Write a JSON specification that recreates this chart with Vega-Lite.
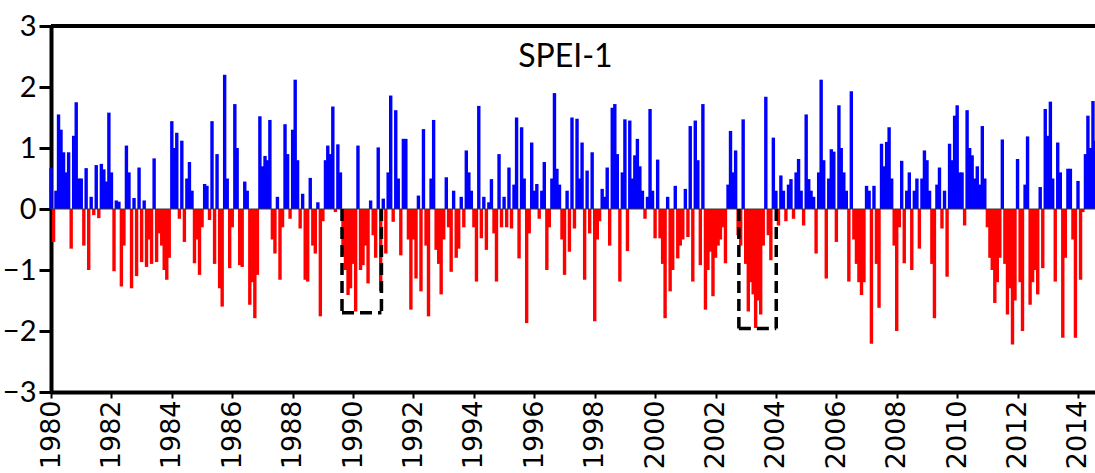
{
  "$schema": "https://vega.github.io/schema/vega-lite/v6.json",
  "width": 1095,
  "height": 473,
  "autosize": {"type": "fit", "contains": "padding"},
  "padding": {"left": 2, "top": 12, "right": -6, "bottom": 0},
  "background": "white",
  "datasets": {
    "spei": [
      {"d":"1980-01","v":0.67},{"d":"1980-02","v":-0.54},{"d":"1980-03","v":0.3},{"d":"1980-04","v":1.55},{"d":"1980-05","v":1.3},{"d":"1980-06","v":0.93},{"d":"1980-07","v":0.6},{"d":"1980-08","v":0.93},{"d":"1980-09","v":-0.65},{"d":"1980-10","v":1.2},{"d":"1980-11","v":1.75},{"d":"1980-12","v":0.5},
      {"d":"1981-01","v":0.5},{"d":"1981-02","v":-0.6},{"d":"1981-03","v":0.67},{"d":"1981-04","v":-1.0},{"d":"1981-05","v":0.2},{"d":"1981-06","v":-0.1},{"d":"1981-07","v":0.72},{"d":"1981-08","v":-0.15},{"d":"1981-09","v":0.74},{"d":"1981-10","v":0.65},{"d":"1981-11","v":0.45},{"d":"1981-12","v":1.58},
      {"d":"1982-01","v":0.6},{"d":"1982-02","v":-1.02},{"d":"1982-03","v":0.14},{"d":"1982-04","v":0.12},{"d":"1982-05","v":-1.27},{"d":"1982-06","v":-0.6},{"d":"1982-07","v":1.04},{"d":"1982-08","v":0.6},{"d":"1982-09","v":-1.3},{"d":"1982-10","v":0.18},{"d":"1982-11","v":-1.1},{"d":"1982-12","v":0.68},
      {"d":"1983-01","v":-0.87},{"d":"1983-02","v":0.14},{"d":"1983-03","v":-0.95},{"d":"1983-04","v":-0.5},{"d":"1983-05","v":-0.9},{"d":"1983-06","v":0.83},{"d":"1983-07","v":-0.87},{"d":"1983-08","v":-0.4},{"d":"1983-09","v":-0.6},{"d":"1983-10","v":-1.0},{"d":"1983-11","v":-1.16},{"d":"1983-12","v":-0.8},
      {"d":"1984-01","v":1.44},{"d":"1984-02","v":1.0},{"d":"1984-03","v":1.25},{"d":"1984-04","v":-0.16},{"d":"1984-05","v":1.12},{"d":"1984-06","v":-0.54},{"d":"1984-07","v":0.5},{"d":"1984-08","v":0.77},{"d":"1984-09","v":0.3},{"d":"1984-10","v":-0.89},{"d":"1984-11","v":-0.5},{"d":"1984-12","v":-1.08},
      {"d":"1985-01","v":-0.3},{"d":"1985-02","v":0.41},{"d":"1985-03","v":0.38},{"d":"1985-04","v":-0.18},{"d":"1985-05","v":1.44},{"d":"1985-06","v":-0.9},{"d":"1985-07","v":0.9},{"d":"1985-08","v":-1.3},{"d":"1985-09","v":-1.6},{"d":"1985-10","v":2.2},{"d":"1985-11","v":0.5},{"d":"1985-12","v":-0.97},
      {"d":"1986-01","v":-0.3},{"d":"1986-02","v":1.72},{"d":"1986-03","v":1.0},{"d":"1986-04","v":-0.92},{"d":"1986-05","v":-0.95},{"d":"1986-06","v":0.45},{"d":"1986-07","v":0.3},{"d":"1986-08","v":-1.57},{"d":"1986-09","v":-1.2},{"d":"1986-10","v":-1.79},{"d":"1986-11","v":-1.08},{"d":"1986-12","v":1.52},
      {"d":"1987-01","v":0.7},{"d":"1987-02","v":0.87},{"d":"1987-03","v":0.8},{"d":"1987-04","v":1.46},{"d":"1987-05","v":-0.5},{"d":"1987-06","v":-0.73},{"d":"1987-07","v":0.2},{"d":"1987-08","v":-1.16},{"d":"1987-09","v":-0.3},{"d":"1987-10","v":1.39},{"d":"1987-11","v":0.9},{"d":"1987-12","v":-0.16},
      {"d":"1988-01","v":1.3},{"d":"1988-02","v":2.12},{"d":"1988-03","v":0.8},{"d":"1988-04","v":-0.32},{"d":"1988-05","v":0.25},{"d":"1988-06","v":-1.16},{"d":"1988-07","v":-1.19},{"d":"1988-08","v":0.51},{"d":"1988-09","v":-0.6},{"d":"1988-10","v":-0.73},{"d":"1988-11","v":0.11},{"d":"1988-12","v":-1.76},
      {"d":"1989-01","v":-0.2},{"d":"1989-02","v":0.8},{"d":"1989-03","v":1.04},{"d":"1989-04","v":0.9},{"d":"1989-05","v":1.68},{"d":"1989-06","v":-0.05},{"d":"1989-07","v":1.06},{"d":"1989-08","v":0.6},{"d":"1989-09","v":-0.76},{"d":"1989-10","v":-1.0},{"d":"1989-11","v":-1.41},{"d":"1989-12","v":-1.3},
      {"d":"1990-01","v":-0.9},{"d":"1990-02","v":-1.68},{"d":"1990-03","v":1.04},{"d":"1990-04","v":-1.0},{"d":"1990-05","v":-0.92},{"d":"1990-06","v":-0.6},{"d":"1990-07","v":-1.22},{"d":"1990-08","v":0.14},{"d":"1990-09","v":-0.43},{"d":"1990-10","v":-0.8},{"d":"1990-11","v":1.01},{"d":"1990-12","v":-1.35},
      {"d":"1991-01","v":0.17},{"d":"1991-02","v":-0.73},{"d":"1991-03","v":0.6},{"d":"1991-04","v":1.86},{"d":"1991-05","v":-0.21},{"d":"1991-06","v":1.62},{"d":"1991-07","v":0.5},{"d":"1991-08","v":-0.76},{"d":"1991-09","v":1.15},{"d":"1991-10","v":1.15},{"d":"1991-11","v":-0.5},{"d":"1991-12","v":-1.65},
      {"d":"1992-01","v":-0.5},{"d":"1992-02","v":-1.14},{"d":"1992-03","v":0.22},{"d":"1992-04","v":-1.35},{"d":"1992-05","v":1.31},{"d":"1992-06","v":-0.6},{"d":"1992-07","v":-1.76},{"d":"1992-08","v":0.5},{"d":"1992-09","v":1.46},{"d":"1992-10","v":-0.67},{"d":"1992-11","v":-0.9},{"d":"1992-12","v":-1.4},
      {"d":"1993-01","v":-0.5},{"d":"1993-02","v":0.52},{"d":"1993-03","v":-0.3},{"d":"1993-04","v":-1.03},{"d":"1993-05","v":0.3},{"d":"1993-06","v":-0.8},{"d":"1993-07","v":-0.65},{"d":"1993-08","v":0.2},{"d":"1993-09","v":-0.3},{"d":"1993-10","v":0.96},{"d":"1993-11","v":0.6},{"d":"1993-12","v":0.3},
      {"d":"1994-01","v":-0.3},{"d":"1994-02","v":-1.19},{"d":"1994-03","v":1.69},{"d":"1994-04","v":-0.48},{"d":"1994-05","v":0.2},{"d":"1994-06","v":-0.67},{"d":"1994-07","v":0.11},{"d":"1994-08","v":0.49},{"d":"1994-09","v":-0.4},{"d":"1994-10","v":-1.19},{"d":"1994-11","v":0.9},{"d":"1994-12","v":-0.3},
      {"d":"1995-01","v":0.2},{"d":"1995-02","v":-0.3},{"d":"1995-03","v":0.68},{"d":"1995-04","v":-0.32},{"d":"1995-05","v":0.4},{"d":"1995-06","v":1.5},{"d":"1995-07","v":-0.81},{"d":"1995-08","v":1.34},{"d":"1995-09","v":0.5},{"d":"1995-10","v":-1.87},{"d":"1995-11","v":-0.4},{"d":"1995-12","v":1.09},
      {"d":"1996-01","v":0.3},{"d":"1996-02","v":0.41},{"d":"1996-03","v":-0.16},{"d":"1996-04","v":0.3},{"d":"1996-05","v":0.77},{"d":"1996-06","v":-1.0},{"d":"1996-07","v":-0.3},{"d":"1996-08","v":0.5},{"d":"1996-09","v":1.9},{"d":"1996-10","v":0.66},{"d":"1996-11","v":0.4},{"d":"1996-12","v":-0.5},
      {"d":"1997-01","v":-1.08},{"d":"1997-02","v":0.3},{"d":"1997-03","v":-0.7},{"d":"1997-04","v":1.5},{"d":"1997-05","v":-0.32},{"d":"1997-06","v":1.48},{"d":"1997-07","v":0.5},{"d":"1997-08","v":1.09},{"d":"1997-09","v":-1.16},{"d":"1997-10","v":0.63},{"d":"1997-11","v":-0.4},{"d":"1997-12","v":0.93},
      {"d":"1998-01","v":-1.84},{"d":"1998-02","v":-0.5},{"d":"1998-03","v":-0.2},{"d":"1998-04","v":0.33},{"d":"1998-05","v":0.2},{"d":"1998-06","v":0.68},{"d":"1998-07","v":-0.6},{"d":"1998-08","v":1.66},{"d":"1998-09","v":1.72},{"d":"1998-10","v":0.9},{"d":"1998-11","v":-1.19},{"d":"1998-12","v":0.6},
      {"d":"1999-01","v":1.47},{"d":"1999-02","v":-0.69},{"d":"1999-03","v":1.45},{"d":"1999-04","v":0.5},{"d":"1999-05","v":0.88},{"d":"1999-06","v":1.15},{"d":"1999-07","v":0.7},{"d":"1999-08","v":0.3},{"d":"1999-09","v":-0.16},{"d":"1999-10","v":0.2},{"d":"1999-11","v":1.64},{"d":"1999-12","v":0.3},
      {"d":"2000-01","v":-0.48},{"d":"2000-02","v":0.81},{"d":"2000-03","v":-0.48},{"d":"2000-04","v":-0.9},{"d":"2000-05","v":-1.79},{"d":"2000-06","v":0.2},{"d":"2000-07","v":-1.35},{"d":"2000-08","v":-1.0},{"d":"2000-09","v":0.38},{"d":"2000-10","v":-0.81},{"d":"2000-11","v":-0.6},{"d":"2000-12","v":-0.5},
      {"d":"2001-01","v":0.33},{"d":"2001-02","v":-0.46},{"d":"2001-03","v":1.36},{"d":"2001-04","v":-1.19},{"d":"2001-05","v":1.45},{"d":"2001-06","v":0.8},{"d":"2001-07","v":-0.92},{"d":"2001-08","v":1.72},{"d":"2001-09","v":-1.65},{"d":"2001-10","v":-1.0},{"d":"2001-11","v":-0.7},{"d":"2001-12","v":-1.43},
      {"d":"2002-01","v":-0.8},{"d":"2002-02","v":-0.6},{"d":"2002-03","v":-0.5},{"d":"2002-04","v":-0.3},{"d":"2002-05","v":-0.89},{"d":"2002-06","v":0.4},{"d":"2002-07","v":1.28},{"d":"2002-08","v":0.6},{"d":"2002-09","v":0.96},{"d":"2002-10","v":-0.43},{"d":"2002-11","v":-0.6},{"d":"2002-12","v":1.47},
      {"d":"2003-01","v":-0.9},{"d":"2003-02","v":-1.68},{"d":"2003-03","v":-1.2},{"d":"2003-04","v":-1.4},{"d":"2003-05","v":-1.95},{"d":"2003-06","v":-1.5},{"d":"2003-07","v":-1.73},{"d":"2003-08","v":-0.6},{"d":"2003-09","v":1.84},{"d":"2003-10","v":-0.43},{"d":"2003-11","v":-0.84},{"d":"2003-12","v":1.17},
      {"d":"2004-01","v":0.3},{"d":"2004-02","v":-0.27},{"d":"2004-03","v":0.55},{"d":"2004-04","v":0.3},{"d":"2004-05","v":-0.2},{"d":"2004-06","v":0.4},{"d":"2004-07","v":0.49},{"d":"2004-08","v":-0.16},{"d":"2004-09","v":0.6},{"d":"2004-10","v":0.82},{"d":"2004-11","v":0.3},{"d":"2004-12","v":-0.27},
      {"d":"2005-01","v":1.55},{"d":"2005-02","v":0.49},{"d":"2005-03","v":0.3},{"d":"2005-04","v":0.2},{"d":"2005-05","v":-0.73},{"d":"2005-06","v":0.6},{"d":"2005-07","v":2.12},{"d":"2005-08","v":0.8},{"d":"2005-09","v":-1.14},{"d":"2005-10","v":0.5},{"d":"2005-11","v":0.98},{"d":"2005-12","v":0.94},
      {"d":"2006-01","v":-0.54},{"d":"2006-02","v":1.7},{"d":"2006-03","v":1.0},{"d":"2006-04","v":0.6},{"d":"2006-05","v":0.3},{"d":"2006-06","v":-1.19},{"d":"2006-07","v":1.93},{"d":"2006-08","v":-0.5},{"d":"2006-09","v":-0.9},{"d":"2006-10","v":-1.2},{"d":"2006-11","v":-1.41},{"d":"2006-12","v":-1.2},
      {"d":"2007-01","v":0.38},{"d":"2007-02","v":0.3},{"d":"2007-03","v":-2.21},{"d":"2007-04","v":0.38},{"d":"2007-05","v":-0.9},{"d":"2007-06","v":-1.62},{"d":"2007-07","v":1.07},{"d":"2007-08","v":0.7},{"d":"2007-09","v":1.1},{"d":"2007-10","v":1.34},{"d":"2007-11","v":0.5},{"d":"2007-12","v":-0.6},
      {"d":"2008-01","v":-2.0},{"d":"2008-02","v":-0.3},{"d":"2008-03","v":0.79},{"d":"2008-04","v":-0.89},{"d":"2008-05","v":0.3},{"d":"2008-06","v":0.6},{"d":"2008-07","v":-1.0},{"d":"2008-08","v":0.3},{"d":"2008-09","v":0.5},{"d":"2008-10","v":-0.65},{"d":"2008-11","v":0.5},{"d":"2008-12","v":0.96},
      {"d":"2009-01","v":0.8},{"d":"2009-02","v":0.3},{"d":"2009-03","v":-0.9},{"d":"2009-04","v":-1.79},{"d":"2009-05","v":0.4},{"d":"2009-06","v":0.68},{"d":"2009-07","v":-0.32},{"d":"2009-08","v":0.3},{"d":"2009-09","v":-1.11},{"d":"2009-10","v":1.07},{"d":"2009-11","v":0.8},{"d":"2009-12","v":1.53},
      {"d":"2010-01","v":1.7},{"d":"2010-02","v":0.6},{"d":"2010-03","v":0.6},{"d":"2010-04","v":-0.27},{"d":"2010-05","v":1.62},{"d":"2010-06","v":1.0},{"d":"2010-07","v":0.88},{"d":"2010-08","v":0.5},{"d":"2010-09","v":0.7},{"d":"2010-10","v":0.4},{"d":"2010-11","v":1.36},{"d":"2010-12","v":0.5},
      {"d":"2011-01","v":-0.3},{"d":"2011-02","v":-0.8},{"d":"2011-03","v":-1.0},{"d":"2011-04","v":-1.54},{"d":"2011-05","v":-1.2},{"d":"2011-06","v":-0.8},{"d":"2011-07","v":1.14},{"d":"2011-08","v":-0.9},{"d":"2011-09","v":-1.73},{"d":"2011-10","v":-1.3},{"d":"2011-11","v":-2.22},{"d":"2011-12","v":-1.5},
      {"d":"2012-01","v":0.82},{"d":"2012-02","v":-1.2},{"d":"2012-03","v":-2.0},{"d":"2012-04","v":0.4},{"d":"2012-05","v":1.19},{"d":"2012-06","v":-1.57},{"d":"2012-07","v":-1.2},{"d":"2012-08","v":-1.0},{"d":"2012-09","v":-1.4},{"d":"2012-10","v":0.36},{"d":"2012-11","v":-0.97},{"d":"2012-12","v":1.64},
      {"d":"2013-01","v":1.2},{"d":"2013-02","v":1.76},{"d":"2013-03","v":0.5},{"d":"2013-04","v":-1.19},{"d":"2013-05","v":1.09},{"d":"2013-06","v":0.6},{"d":"2013-07","v":-2.11},{"d":"2013-08","v":-0.8},{"d":"2013-09","v":0.66},{"d":"2013-10","v":0.66},{"d":"2013-11","v":-0.5},{"d":"2013-12","v":-2.11},
      {"d":"2014-01","v":0.46},{"d":"2014-02","v":-1.16},{"d":"2014-03","v":-0.05},{"d":"2014-04","v":0.9},{"d":"2014-05","v":1.53},{"d":"2014-06","v":1.0},{"d":"2014-07","v":1.77},{"d":"2014-08","v":1.12}
    ],
    "boxes": [
      {"xa":"1989-08-20","xb":"1989-08-20","ya":0,"yb":-1.7},
      {"xa":"1989-08-20","xb":"1990-12-10","ya":-1.7,"yb":-1.7},
      {"xa":"1990-12-10","xb":"1990-12-10","ya":0,"yb":-1.7},
      {"xa":"2002-10-10","xb":"2002-10-10","ya":0,"yb":-1.96},
      {"xa":"2002-10-10","xb":"2004-01-05","ya":-1.96,"yb":-1.96},
      {"xa":"2004-01-05","xb":"2004-01-05","ya":0,"yb":-1.96}
    ],
    "label": [
      {"d":"1997-01-12","v":2.5,"text":"SPEI-1"}
    ],
    "lines": [
      {"v":0,"kind":"zero"},
      {"v":3,"kind":"top"}
    ]
  },
  "layer": [
    {
      "data": {"name": "spei"},
      "mark": {"type": "bar", "width": 3.4},
      "encoding": {
        "x": {
          "field": "d", "type": "temporal", "title": null,
          "scale": {"type": "utc", "padding": 0, "domain": [{"year": 1980, "month": 1, "date": 1, "utc": true}, {"year": 2014, "month": 9, "date": 12, "utc": true}]},
          "axis": {
            "values": [
              {"year": 1980, "utc": true}, {"year": 1982, "utc": true}, {"year": 1984, "utc": true}, {"year": 1986, "utc": true},
              {"year": 1988, "utc": true}, {"year": 1990, "utc": true}, {"year": 1992, "utc": true}, {"year": 1994, "utc": true},
              {"year": 1996, "utc": true}, {"year": 1998, "utc": true}, {"year": 2000, "utc": true}, {"year": 2002, "utc": true},
              {"year": 2004, "utc": true}, {"year": 2006, "utc": true}, {"year": 2008, "utc": true}, {"year": 2010, "utc": true},
              {"year": 2012, "utc": true}, {"year": 2014, "utc": true}
            ],
            "format": "%Y", "formatType": "utc"
          }
        },
        "y": {
          "field": "v", "type": "quantitative", "title": null,
          "scale": {"domain": [-3, 3], "nice": false, "zero": false},
          "axis": {"values": [-3, -2, -1, 0, 1, 2, 3], "format": "d"}
        },
        "color": {"condition": {"test": "datum.v >= 0", "value": "#0000ff"}, "value": "#ff0000"}
      }
    },
    {
      "data": {"name": "lines"},
      "mark": {"type": "rule"},
      "encoding": {
        "y": {"field": "v", "type": "quantitative", "title": null},
        "color": {"condition": {"test": "datum.kind == 'top'", "value": "black"}, "value": "#3a3a2a"},
        "strokeWidth": {"condition": {"test": "datum.kind == 'top'", "value": 4}, "value": 1.2}
      }
    },
    {
      "data": {"name": "boxes"},
      "mark": {"type": "rule", "color": "black", "strokeWidth": 3.5, "strokeDash": [12, 6]},
      "encoding": {
        "x": {"field": "xa", "type": "temporal", "title": null},
        "x2": {"field": "xb"},
        "y": {"field": "ya", "type": "quantitative", "title": null},
        "y2": {"field": "yb"}
      }
    },
    {
      "data": {"name": "label"},
      "mark": {"type": "text", "font": "Lato", "fontSize": 32, "color": "black", "align": "center", "baseline": "middle"},
      "encoding": {
        "x": {"field": "d", "type": "temporal", "title": null},
        "y": {"field": "v", "type": "quantitative", "title": null},
        "text": {"field": "text"}
      }
    }
  ],
  "config": {
    "view": {"stroke": null},
    "axis": {"grid": false, "domainColor": "black", "domainWidth": 4, "tickColor": "black", "labelColor": "black", "labelFlush": false, "labelOverlap": false},
    "axisX": {"labelAngle": 270, "labelFont": "DejaVu Sans", "labelFontSize": 27, "tickSize": 6, "tickWidth": 2, "labelPadding": 2, "minExtent": 81, "maxExtent": 81},
    "axisY": {"labelFont": "Lato", "labelFontSize": 29, "tickSize": 12, "tickWidth": 3, "labelPadding": 3, "minExtent": 40, "maxExtent": 40}
  }
}
